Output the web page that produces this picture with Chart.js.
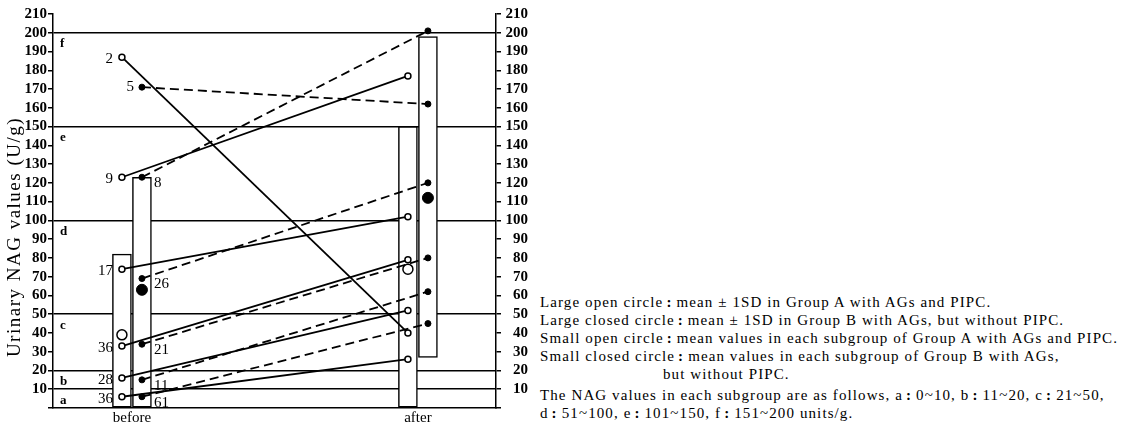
<!DOCTYPE html>
<html>
<head>
<meta charset="utf-8">
<script src="https://cdn.jsdelivr.net/npm/chart.js@4/dist/chart.umd.min.js"></script>
<style>
body{margin:0;background:#fff;width:1131px;height:428px;overflow:hidden;position:relative;font-family:"Liberation Serif",serif;color:#000;}
#wrap{position:absolute;left:0;top:0;width:540px;height:428px;}
#notes{position:absolute;left:540px;top:293px;font-size:15px;line-height:18px;letter-spacing:1.1px;white-space:nowrap;}
#notes b{font-weight:bold;padding:0 4px 0 3px;}
#notes .ind{padding-left:123px;}
#notes .gap{margin-top:3px;}
</style>
</head>
<body>
<div id="wrap"><canvas id="nagcanvas" width="540" height="428"></canvas></div>
<div id="notes">
<div>Large open circle<b>:</b>mean ± 1SD in Group A with AGs and PIPC.</div>
<div>Large closed circle<b>:</b>mean ± 1SD in Group B with AGs, but without PIPC.</div>
<div>Small open circle<b>:</b>mean values in each subgroup of Group A with AGs and PIPC.</div>
<div>Small closed circle<b>:</b>mean values in each subgroup of Group B with AGs,</div>
<div class="ind">but without PIPC.</div>
<div class="gap">The NAG values in each subgroup are as follows, a<b>:</b>0~10, b<b>:</b>11~20, c<b>:</b>21~50,</div>
<div>d<b>:</b>51~100, e<b>:</b>101~150, f<b>:</b>151~200 units/g.</div>
</div>
<script>
var periods = ['before', 'after'];
var subgroups = ['a', 'b', 'c', 'd', 'e', 'f'];
var subgroupUpper = [10, 20, 50, 100, 150, 200];
var countA = [36, 28, 36, 17, 9, 2];
var countB = [61, 11, 21, 26, 8, 5];
var beforeA = [6, 16, 33, 74, 123, 187];
var afterA = [26, 52, 79, 102, 177, 40];
var beforeB = [6, 15, 34, 69, 123, 171];
var afterB = [45, 62, 80, 120, 201, 162];
var meanA = [39, 74];
var meanB = [63, 112];
var sdLowA = [0, 0];
var sdHighA = [82, 150];
var sdLowB = [0, 27];
var sdHighB = [123, 198];
var yTitle = 'Urinary NAG values (U/g)';

var offA = -0.035, offB = 0.035;
var serif = '"Liberation Serif", "Times New Roman", serif';

function pair(vals, off) {
	return [{x: 0 + off, y: vals[0]}, {x: 1 + off, y: vals[1]}];
}

var datasets = [];

datasets.push({
	type: 'bar',
	data: periods.map(function(p, i){ return {x: i + offA, y: [sdLowA[i], sdHighA[i]]}; }),
	backgroundColor: '#fff', borderColor: '#000', borderWidth: 1.5,
	borderSkipped: false, barThickness: 19, grouped: false, order: 10
});
datasets.push({
	type: 'bar',
	data: periods.map(function(p, i){ return {x: i + offB, y: [sdLowB[i], sdHighB[i]]}; }),
	backgroundColor: '#fff', borderColor: '#000', borderWidth: 1.5,
	borderSkipped: false, barThickness: 19, grouped: false, order: 10
});

for (var i = 0; i < subgroups.length; i++) {
	datasets.push({
		type: 'line',
		data: pair([beforeB[i], afterB[i]], offB),
		borderColor: '#000', borderWidth: 1.8, borderDash: [9, 5],
		pointRadius: 3, pointBackgroundColor: '#000', pointBorderColor: '#000', pointBorderWidth: 1,
		fill: false, order: 2
	});
	datasets.push({
		type: 'line',
		data: pair([beforeA[i], afterA[i]], offA),
		borderColor: '#000', borderWidth: 1.8,
		pointRadius: 3, pointBackgroundColor: '#fff', pointBorderColor: '#000', pointBorderWidth: 1.5,
		fill: false, order: 1
	});
}

datasets.push({
	type: 'line', showLine: false,
	data: periods.map(function(p, i){ return {x: i + offA, y: meanA[i]}; }),
	pointRadius: 5, pointBackgroundColor: '#fff', pointBorderColor: '#000', pointBorderWidth: 1.5, order: 0
});
datasets.push({
	type: 'line', showLine: false,
	data: periods.map(function(p, i){ return {x: i + offB, y: meanB[i]}; }),
	pointRadius: 5.5, pointBackgroundColor: '#000', pointBorderColor: '#000', pointBorderWidth: 1, order: 0
});

// y title (spaced letters) and the subgroup / count labels
var labelPlugin = {
	id: 'subgroupLabels',
	afterDraw: function(chart) {
		var ctx = chart.ctx, xs = chart.scales.x, ys = chart.scales.y;
		ctx.save();
		ctx.fillStyle = '#000';
		ctx.textBaseline = 'middle';

		ctx.save();
		ctx.translate(15, 237);
		ctx.rotate(-Math.PI / 2);
		ctx.textAlign = 'center';
		ctx.font = '19px ' + serif;
		if ('letterSpacing' in ctx) ctx.letterSpacing = '1.5px';
		ctx.fillText(yTitle, 0, 0);
		ctx.restore();

		ctx.font = 'bold 13px ' + serif;
		ctx.textAlign = 'left';
		for (var i = 0; i < subgroups.length; i++) {
			ctx.fillText(subgroups[i], xs.left + 7, ys.getPixelForValue(subgroupUpper[i]) + 11);
		}
		ctx.font = '15px ' + serif;
		for (i = 0; i < subgroups.length; i++) {
			ctx.textAlign = 'right';
			ctx.fillText(String(countA[i]), xs.getPixelForValue(offA) - 9, ys.getPixelForValue(beforeA[i]) + 2);
			if (i == subgroups.length - 1) {
				ctx.fillText(String(countB[i]), xs.getPixelForValue(offB) - 8, ys.getPixelForValue(beforeB[i]));
			} else {
				ctx.textAlign = 'left';
				ctx.fillText(String(countB[i]), xs.getPixelForValue(offB) + 12, ys.getPixelForValue(beforeB[i]) + 6);
			}
		}
		ctx.restore();
	}
};

var tickFont = {family: serif, size: 15, weight: 'bold'};

var ctx = document.getElementById('nagcanvas');
var nagChart = new Chart(ctx, {
	type: 'scatter',
	data: {datasets: datasets},
	options: {
		responsive: false,
		animation: false,
		layout: {padding: {top: 14, left: 0, right: 12, bottom: 0}},
		plugins: {legend: {display: false}, tooltip: {enabled: false}},
		scales: {
			x: {
				type: 'linear', min: -0.276, max: 1.273, offset: false,
				afterBuildTicks: function(scale) {
					scale.ticks = periods.map(function(p, i){ return {value: i}; });
				},
				ticks: {
					callback: function(v){ return periods[v]; },
					font: {family: serif, size: 15}, color: '#000', padding: 1,
					maxRotation: 0, autoSkip: false
				},
				grid: {drawOnChartArea: false, drawTicks: false, color: 'transparent', offset: false},
				border: {color: '#000', width: 1.5},
				afterFit: function(s){ s.height = 20; }
			},
			y: {
				type: 'linear', position: 'left', min: 0, max: 210,
				ticks: {
					stepSize: 10, padding: 1, color: '#000', font: tickFont, autoSkip: false,
					callback: function(v){ return v === 0 ? '' : v; }
				},
				grid: {
					color: function(c){ return c.tick && subgroupUpper.indexOf(c.tick.value) >= 0 ? '#000' : 'transparent'; },
					tickColor: '#000', lineWidth: 1.5, tickLength: 5
				},
				border: {color: '#000', width: 1.5},
				afterFit: function(s){ s.width = 53; }
			},
			y2: {
				type: 'linear', position: 'right', min: 0, max: 210,
				ticks: {
					stepSize: 10, padding: 1, color: '#000', font: tickFont, crossAlign: 'far', autoSkip: false,
					callback: function(v){ return v === 0 ? '' : v; }
				},
				grid: {drawOnChartArea: false, color: 'transparent', tickColor: '#000', lineWidth: 1.5, tickLength: 5},
				border: {color: '#000', width: 1.5},
				afterFit: function(s){ s.width = 32; }
			}
		}
	},
	plugins: [labelPlugin]
});
</script>
</body>
</html>
